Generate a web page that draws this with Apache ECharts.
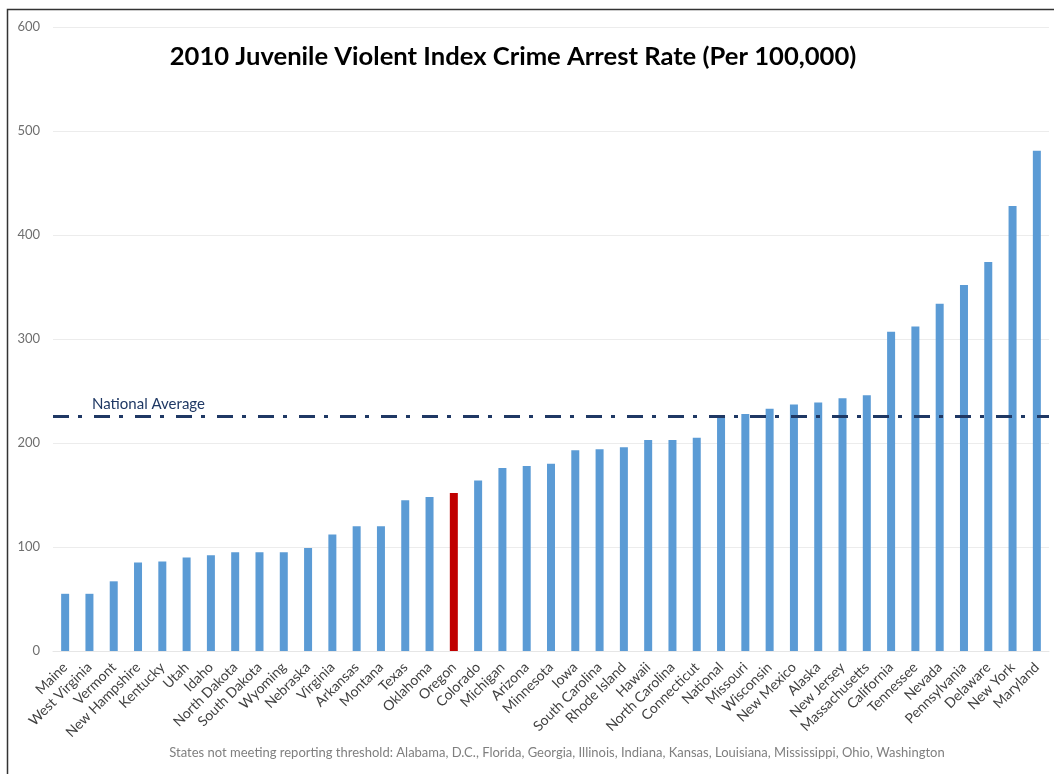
<!DOCTYPE html>
<html>
<head>
<meta charset="utf-8">
<script src="https://cdn.jsdelivr.net/npm/echarts@6/dist/echarts.min.js"></script>
<style>
  html, body { margin: 0; padding: 0; background: #ffffff; }
  #chart { width: 1054px; height: 774px; }
</style>
</head>
<body>
<div id="chart"></div>
<script>
// Juvenile violent index crime arrest rate per 100,000, 2010, sorted ascending
const states = [
  'Maine', 'West Virginia', 'Vermont', 'New Hampshire', 'Kentucky', 'Utah', 'Idaho',
  'North Dakota', 'South Dakota', 'Wyoming', 'Nebraska', 'Virginia', 'Arkansas', 'Montana',
  'Texas', 'Oklahoma', 'Oregon', 'Colorado', 'Michigan', 'Arizona', 'Minnesota', 'Iowa',
  'South Carolina', 'Rhode Island', 'Hawaii', 'North Carolina', 'Connecticut', 'National',
  'Missouri', 'Wisconsin', 'New Mexico', 'Alaska', 'New Jersey', 'Massachusetts',
  'California', 'Tennessee', 'Nevada', 'Pennsylvania', 'Delaware', 'New York', 'Maryland'
];
const rates = [
  55, 55, 67, 85, 86, 90, 92,
  95, 95, 95, 99, 112, 120, 120,
  145, 148, 152, 164, 176, 178, 180, 193,
  194, 196, 203, 203, 205, 226,
  228, 233, 237, 239, 243, 246,
  307, 312, 334, 352, 374, 428, 481
];
const nationalAverage = 226;
const highlightState = 'Oregon';
const yTicks = [0, 100, 200, 300, 400, 500, 600];

const titleText = '2010 Juvenile Violent Index Crime Arrest Rate (Per 100,000)';
const noteText = 'States not meeting reporting threshold: Alabama, D.C., Florida, Georgia, Illinois, Indiana, Kansas, Louisiana, Mississippi, Ohio, Washington';

const blue = '#5b9bd5';
const red = '#c00000';
const navy = '#1f3864';

const chart = echarts.init(document.getElementById('chart'), null, { renderer: 'canvas' });

chart.setOption({
  backgroundColor: '#ffffff',
  animation: false,
  title: {
    text: titleText,
    left: 508,
    top: 39,
    textAlign: 'center',
    textStyle: {
      fontFamily: 'Lato',
      fontWeight: 'bold',
      fontSize: 25.6,
      color: '#000000'
    }
  },
  graphic: [
    {
      type: 'rect',
      shape: { x: 7.5, y: 9.5, width: 1100, height: 800 },
      style: { fill: null, stroke: '#333333', lineWidth: 1.5 },
      silent: true
    },
    {
      type: 'text',
      x: 557,
      y: 746,
      style: {
        text: noteText,
        align: 'center',
        fontFamily: 'Lato',
        fontSize: 13,
        fill: '#7f7f7f'
      }
    }
  ],
  grid: { left: 53, right: 5, top: 27, bottom: 123 },
  xAxis: {
    type: 'category',
    data: states,
    axisLine: { show: true, lineStyle: { color: '#e6e6e6', width: 1 } },
    axisTick: { show: false },
    axisLabel: {
      rotate: 45,
      interval: 0,
      margin: 14,
      fontFamily: 'Lato',
      fontSize: 14,
      color: '#404040'
    }
  },
  yAxis: {
    type: 'value',
    min: yTicks[0],
    max: yTicks[yTicks.length - 1],
    interval: 100,
    axisLine: { show: false },
    axisTick: { show: false },
    axisLabel: {
      margin: 13,
      fontFamily: 'Lato',
      fontSize: 13,
      color: '#6f6f6f'
    },
    splitLine: { lineStyle: { color: '#ececec', width: 1 } }
  },
  series: [{
    type: 'bar',
    barWidth: 8,
    data: states.map((s, i) => ({
      value: rates[i],
      itemStyle: { color: s === highlightState ? red : blue }
    })),
    markLine: {
      silent: true,
      symbol: 'none',
      lineStyle: {
        color: navy,
        width: 3,
        type: [16, 9, 4, 12]
      },
      label: {
        show: true,
        position: 'insideStartTop',
        formatter: 'National Average',
        distance: [39, 4],
        fontFamily: 'Lato',
        fontSize: 15,
        color: navy
      },
      data: [{ yAxis: nationalAverage }]
    }
  }]
});
</script>
</body>
</html>
